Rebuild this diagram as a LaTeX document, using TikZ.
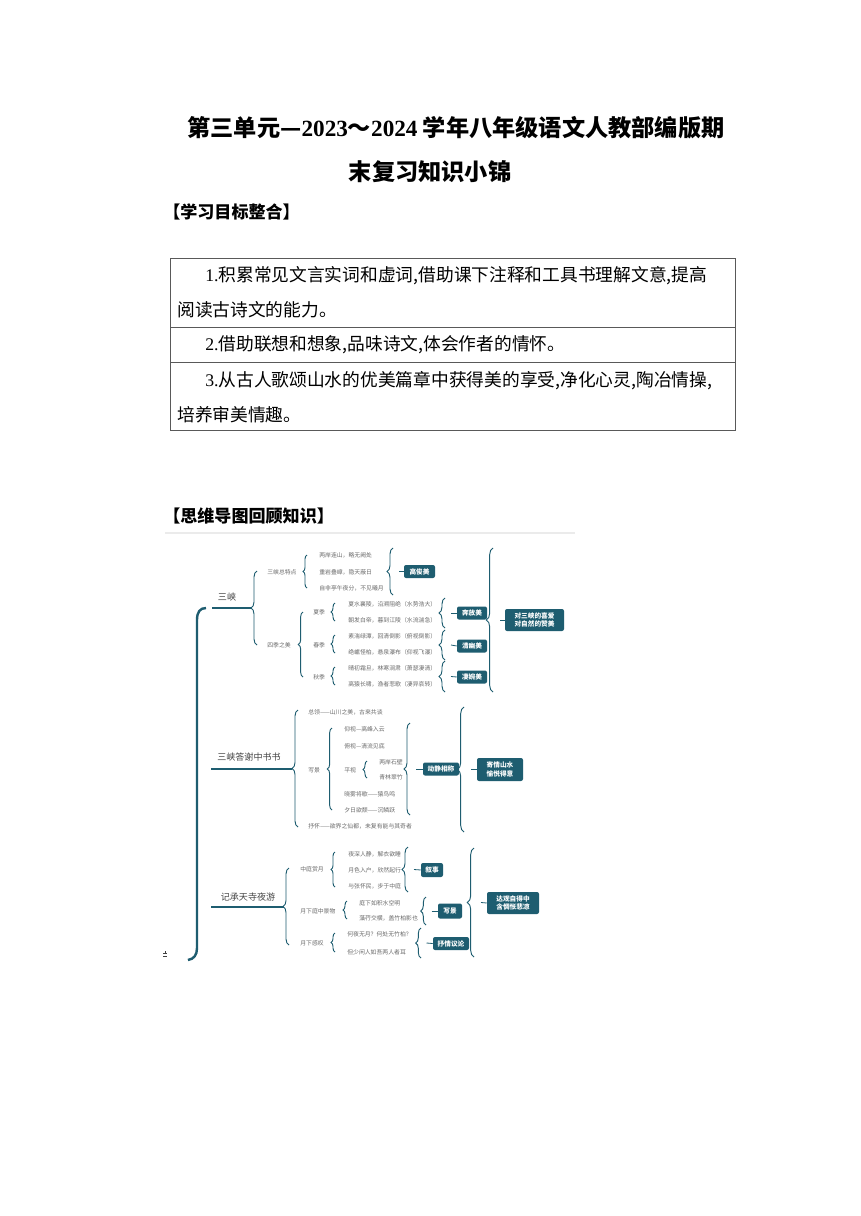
\documentclass[tikz,border=0pt]{standalone}
\usepackage{fontspec}
\setmainfont{Liberation Serif}
\newfontfamily\cjk{Noto Sans CJK SC}
\usetikzlibrary{decorations.pathreplacing}
\definecolor{tealx}{HTML}{1E5D70}
\definecolor{tgray}{HTML}{6A6A6A}
\definecolor{mgray}{HTML}{444444}
\tikzset{
  small/.style={font=\cjk\fontsize{4.4}{5}\selectfont, text=tgray, inner sep=0pt, anchor=west},
  mainlbl/.style={font=\cjk\fontsize{6.8}{8}\selectfont, text=mgray, inner sep=0pt},
  mainline/.style={draw=tealx, line width=1.3pt},
  lbrace/.style={draw=tealx, line width=0.7pt, decorate, decoration={brace, amplitude=#1}},
  rbrace/.style={draw=tealx, line width=0.7pt, decorate, decoration={brace, amplitude=#1, mirror}},
  tick/.style={draw=tealx, line width=0.6pt},
  tbox/.style={fill=tealx, text=white, rounded corners=1.5pt, inner sep=0pt, align=center,
    font=\cjk\bfseries\fontsize{5}{6.5}\selectfont},
  ttext/.style={font=\cjk\fontsize{13.3}{16}\selectfont, inner sep=0pt, anchor=west},
  head/.style={font=\cjk\bfseries\fontsize{12.8}{15}\selectfont, inner sep=0pt, anchor=west},
  tline/.style={draw=black!65, line width=0.6pt},
}
\begin{document}
\begin{tikzpicture}[x=0.75pt,y=-0.75pt]
\fill[white] (0,0) rectangle (860,1216);
\useasboundingbox (0,0) rectangle (860,1216);

% title
\node[font=\cjk\bfseries\fontsize{17.4}{20}\selectfont, inner sep=0pt] (t1) at (456,128) {第三单元—{\rmfamily\bfseries 2023}～{\rmfamily\bfseries 2024} 学年八年级语文人教部编版期};
\node[font=\cjk\bfseries\fontsize{17.4}{20}\selectfont, inner sep=0pt] (t2) at (430,172) {末复习知识小锦};
\node[head] (h1) at (163,212) {【学习目标整合】};

% table
\draw[tline] (170,258) rectangle (735,430);
\draw[tline] (170,327) -- (735,327);
\draw[tline] (170,362) -- (735,362);
\node[ttext] (r1a) at (205,276) {{\rmfamily 1.}积累常见文言实词和虚词,借助课下注释和工具书理解文意,提高};
\node[ttext] (r1b) at (177,310) {阅读古诗文的能力。};
\node[ttext] (r2) at (205,345) {{\rmfamily 2.}借助联想和想象,品味诗文,体会作者的情怀。};
\node[ttext] (r3a) at (205,381) {{\rmfamily 3.}从古人歌颂山水的优美篇章中获得美的享受,净化心灵,陶冶情操,};
\node[ttext] (r3b) at (177,415) {培养审美情趣。};

\node[head] (h2) at (163,516) {【思维导图回顾知识】};

% mind map frame line
\draw[black!8, line width=1pt] (165,533) -- (575,533);

% big left bracket
\draw[tealx, line width=1.8pt] (206,608) .. controls (200,608) and (197,612) .. (197,620) -- (197,948) .. controls (197,955) and (194,959) .. (188,960);
\fill[black!75] (163,953) rectangle (167,954);
\fill[black!75] (163,955.5) rectangle (167,956.5);
\fill[black!75] (164.5,951) rectangle (165.5,953);

% ===== Section 1: 三峡 =====
\node[mainlbl] (s1) at (227,597) {三峡};
\coordinate (s1a) at (212,608);
\coordinate (s1b) at (251,608);
\draw[mainline] (s1a) -- (s1b);
\draw[lbrace=4.5pt] (257,645) -- (257,571);

\node[small] (zt) at (267,572) {三峡总特点};
\draw[lbrace=3pt] (307,588) -- (307,555);
\node[small] (a1) at (319,555) {两岸连山，略无阙处};
\node[small] (a2) at (319,572) {重岩叠嶂，隐天蔽日};
\node[small] (a3) at (319,588) {自非亭午夜分，不见曦月};
\draw[rbrace=4.5pt] (393,548) -- (393,595);
\node[tbox, minimum width=23.25pt, minimum height=9.75pt] (b1) at (419.5,571.5) {高俊美};
\coordinate (b1t) at (399,571.5);
\draw[tick] (b1t) -- (b1.west);

\node[small] (sj) at (267,645) {四季之美};
\draw[lbrace=3.5pt] (303,677) -- (303,612);
\node[small] (xj) at (313,612) {夏季};
\node[small] (cj) at (313,645) {春季};
\node[small] (qj) at (313,677) {秋季};
\draw[lbrace=3pt] (335,621) -- (335,603);
\draw[lbrace=3pt] (335,653) -- (335,635);
\draw[lbrace=3pt] (335,685) -- (335,667);
\node[small] (c1) at (348,604) {夏水襄陵，沿溯阻绝（水势浩大）};
\node[small] (c2) at (348,620) {朝发白帝，暮到江陵（水流湍急）};
\node[small] (c3) at (348,636) {素湍绿潭，回清倒影（俯视倒影）};
\node[small] (c4) at (348,652) {绝巘怪柏，悬泉瀑布（仰视飞瀑）};
\node[small] (c5) at (348,668) {晴初霜旦，林寒涧肃（萧瑟凄清）};
\node[small] (c6) at (348,684) {高猿长啸，渔者悲歌（凄异哀转）};
\draw[rbrace=4.5pt] (445,598) -- (445,628);
\draw[rbrace=4.5pt] (445,630) -- (445,660);
\draw[rbrace=4.5pt] (445,661) -- (445,692);
\node[tbox, minimum width=22.5pt, minimum height=9.75pt] (b2) at (472,613) {奔放美};
\node[tbox, minimum width=22.5pt, minimum height=9.75pt] (b3) at (472,646) {清幽美};
\node[tbox, minimum width=22.5pt, minimum height=9.75pt] (b4) at (472,677) {凄婉美};
\coordinate (b2t) at (451,613);
\coordinate (b3t) at (451,645);
\coordinate (b4t) at (451,676.5);
\draw[tick] (b2t) -- (b2.west);
\draw[tick] (b3t) -- (b3.west);
\draw[tick] (b4t) -- (b4.west);
\draw[rbrace=5pt] (493,548) -- (493,692);
\node[tbox, minimum width=44.25pt, minimum height=16.5pt] (b5) at (534.5,620) {对三峡的喜爱\\对自然的赞美};
\coordinate (b5t) at (500,620);
\draw[tick] (b5t) -- (b5.west);

% ===== Section 2: 三峡答谢中书书 =====
\node[mainlbl] (s2) at (249,757) {三峡答谢中书书};
\coordinate (s2a) at (211,769);
\coordinate (s2b) at (292,769);
\draw[mainline] (s2a) -- (s2b);
\draw[lbrace=4.5pt] (298,827) -- (298,710);
\node[small] (d0) at (308,712) {总领——山川之美，古来共谈};
\node[small] (xj2) at (308,770) {写景};
\draw[lbrace=3.5pt] (332,810) -- (332,728);
\node[small] (d1) at (344,729) {仰视—高峰入云};
\node[small] (d2) at (344,746) {俯视—清流见底};
\node[small] (d3) at (344,770) {平视};
\draw[lbrace=3pt] (367,778) -- (367,761);
\node[small] (d3a) at (379,762) {两岸石壁};
\node[small] (d3b) at (379,777) {青林翠竹};
\node[small] (d4) at (344,794) {晓雾将歇——猿鸟鸣};
\node[small] (d5) at (344,810) {夕日欲颓——沉鳞跃};
\node[small] (d6) at (308,826) {抒怀——欲界之仙都，未复有能与其奇者};
\draw[rbrace=4.5pt] (410,723) -- (410,815);
\node[tbox, minimum width=27pt, minimum height=9.75pt] (b6) at (441,769) {动静相称};
\coordinate (b6t) at (416,769);
\draw[tick] (b6t) -- (b6.west);
\draw[rbrace=5pt] (464,707) -- (464,832);
\node[tbox, minimum width=34.5pt, minimum height=17.25pt] (b7) at (500,769.5) {寄情山水\\愉悦得意};
\coordinate (b7t) at (471,769.5);
\draw[tick] (b7t) -- (b7.west);

% ===== Section 3: 记承天寺夜游 =====
\node[mainlbl] (s3) at (248,897) {记承天寺夜游};
\coordinate (s3a) at (211,907);
\coordinate (s3b) at (284,907);
\draw[mainline] (s3a) -- (s3b);
\draw[lbrace=4.5pt] (289,945) -- (289,868);
\node[small] (e1) at (300,869) {中庭赏月};
\draw[lbrace=3pt] (335,887) -- (335,852);
\node[small] (e1a) at (348,854) {夜深人静，解衣欲睡};
\node[small] (e1b) at (348,870) {月色入户，欣然起行};
\node[small] (e1c) at (348,886) {与张怀民，步于中庭};
\node[small] (e2) at (300,911) {月下庭中景物};
\draw[lbrace=3pt] (347,919) -- (347,901);
\node[small] (e2a) at (359,903) {庭下如积水空明};
\node[small] (e2b) at (359,918) {藻荇交横，盖竹柏影也};
\node[small] (e3) at (300,943) {月下感叹};
\draw[lbrace=3pt] (335,952) -- (335,933);
\node[small] (e3a) at (347,934) {何夜无月？何处无竹柏？};
\node[small] (e3b) at (347,952) {但少闲人如吾两人者耳};
\draw[rbrace=4.5pt] (408,847) -- (408,892);
\node[tbox, minimum width=16.5pt, minimum height=10.5pt] (b8) at (432,870) {叙事};
\coordinate (b8t) at (414,869.5);
\draw[tick] (b8t) -- (b8.west);
\draw[rbrace=4pt] (426,897) -- (426,925);
\node[tbox, minimum width=18pt, minimum height=11.25pt] (b9) at (450,911) {写景};
\coordinate (b9t) at (431.5,911);
\draw[tick] (b9t) -- (b9.west);
\draw[rbrace=4pt] (421,928) -- (421,958);
\node[tbox, minimum width=27pt, minimum height=9.75pt] (b10) at (451,943.5) {抒情议论};
\coordinate (b10t) at (426.5,943);
\draw[tick] (b10t) -- (b10.west);
\draw[rbrace=5pt] (474,848) -- (474,957);
\node[tbox, minimum width=39pt, minimum height=16.5pt] (b11) at (513,903) {达观自得中\\含惆怅悲凉};
\coordinate (b11t) at (481,902.5);
\draw[tick] (b11t) -- (b11.west);
\end{tikzpicture}
\end{document}
